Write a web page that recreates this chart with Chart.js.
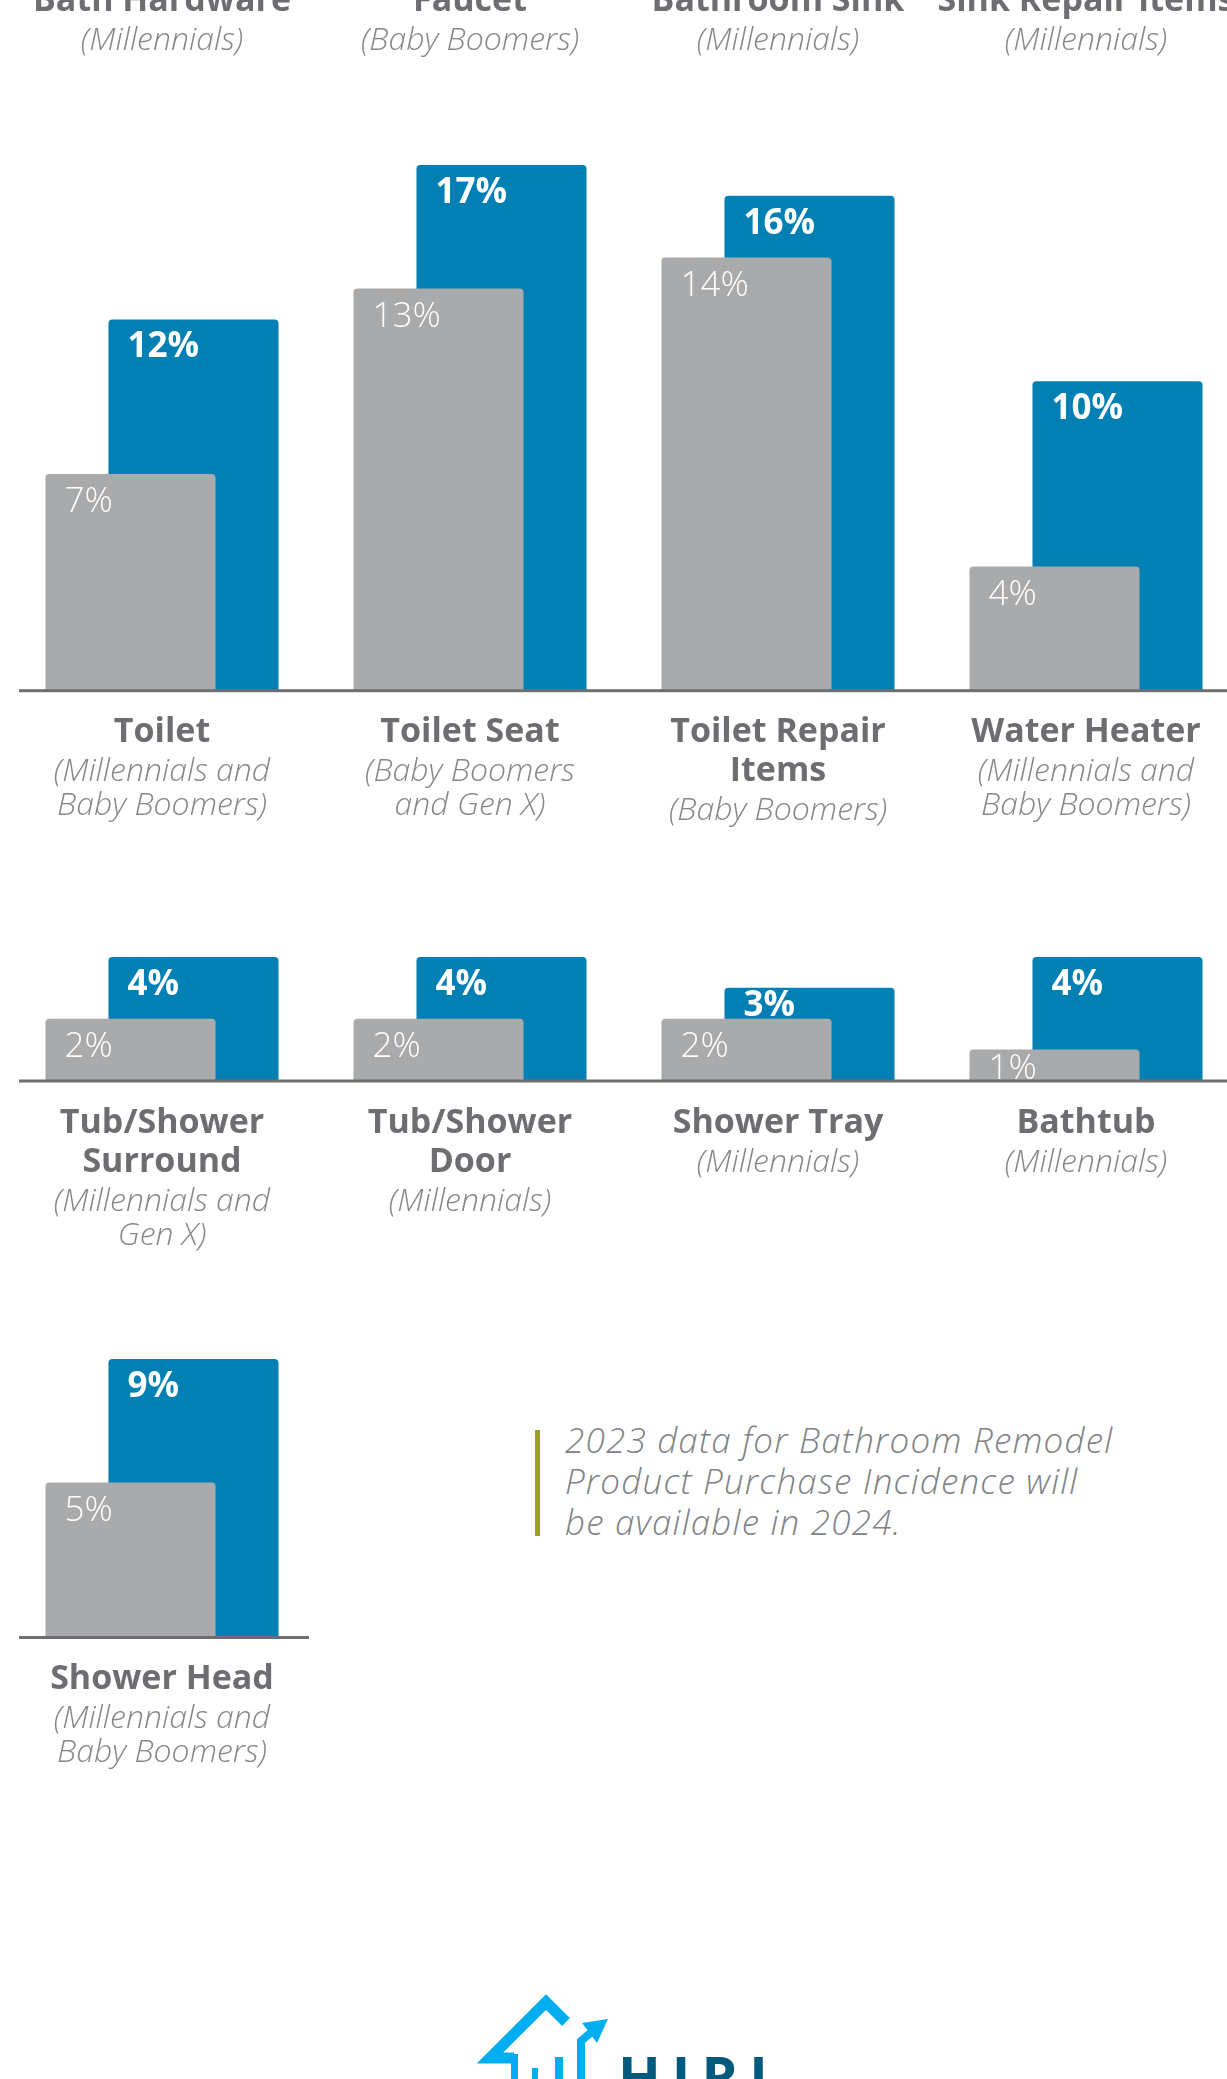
<!DOCTYPE html>
<html>
<head>
<meta charset="utf-8">
<title>Bathroom Remodel Product Purchase Incidence</title>
<script src="https://cdn.jsdelivr.net/npm/chart.js@4.4.0/dist/chart.umd.min.js"></script>
<style>
  html, body { margin: 0; padding: 0; background: #fff; }
  body { position: relative; width: 1227px; height: 2079px; overflow: hidden; font-family: "Open Sans", sans-serif; }
  canvas { position: absolute; left: 0; }
  .note-bar { position: absolute; left: 535px; top: 1430px; width: 5px; height: 106px; background: #9BA21E; }
  .note { position: absolute; left: 565px; top: 1419px; margin: 0; font-style: italic; font-weight: 300;
          font-size: 35px; line-height: 41px; color: #808285; white-space: nowrap; letter-spacing: 1.2px; }
  #logo { position: absolute; left: 0; top: 1960px; }
</style>
</head>
<body>

<div class="note-bar"></div>
<p class="note">2023 data for Bathroom Remodel<br>Product Purchase Incidence will<br>be available in 2024.</p>

<svg id="logo" width="1227" height="119" viewBox="0 1960 1227 119">
  <polyline points="566,2022 546,2002 490,2058 514,2058" fill="none" stroke="#00AEEF" stroke-width="11" stroke-linejoin="miter"/>
  <rect x="511" y="2054" width="7" height="40" fill="#00AEEF"/>
  <rect x="532" y="2068" width="6" height="20" fill="#00AEEF"/>
  <rect x="555" y="2057" width="8" height="30" fill="#00AEEF"/>
  <polyline points="581,2095 581,2041 594,2030" fill="none" stroke="#00AEEF" stroke-width="8"/>
  <polygon points="582,2023 608,2019 597,2043" fill="#00AEEF"/>
  <text x="618" y="2097" font-family="Open Sans" font-weight="700" font-size="56" letter-spacing="11" fill="#005A7D">HIRI</text>
</svg>

<script>
// ---- data ----
// top row: only the labels are on the page, its bars sit above the crop
const topCats = [['Bath Hardware'], ['Faucet'], ['Bathroom Sink'], ['Sink Repair Items']];
const topGroups = [['(Millennials)'], ['(Baby Boomers)'], ['(Millennials)'], ['(Millennials)']];

const toiletCats = [['Toilet'], ['Toilet Seat'], ['Toilet Repair', 'Items'], ['Water Heater']];
const toiletGroups = [['(Millennials and', 'Baby Boomers)'], ['(Baby Boomers', 'and Gen X)'], ['(Baby Boomers)'], ['(Millennials and', 'Baby Boomers)']];
const toiletGray = [7, 13, 14, 4];
const toiletBlue = [12, 17, 16, 10];

const tubCats = [['Tub/Shower', 'Surround'], ['Tub/Shower', 'Door'], ['Shower Tray'], ['Bathtub']];
const tubGroups = [['(Millennials and', 'Gen X)'], ['(Millennials)'], ['(Millennials)'], ['(Millennials)']];
const tubGray = [2, 2, 2, 1];
const tubBlue = [4, 4, 3, 4];

const headCats = [['Shower Head']];
const headGroups = [['(Millennials and', 'Baby Boomers)']];
const headGray = [5];
const headBlue = [9];

// ---- look ----
const GRAY = '#A9AAAC';
const BLUE = '#0280B3';
const AXIS = '#6D6E71';
const TITLE_COLOR = '#6D6E71';
const SUB_COLOR = '#85878A';
const FONT = '"Open Sans", "Lato", sans-serif';
const PPU = 30.9;   // pixels per percentage point, same in every panel
const BAND = 308;   // width of one category
const LABEL_SPACE = 170;

// grey line under the bars
const baseLine = {
  id: 'baseLine',
  afterDatasetsDraw(chart) {
    const a = chart.chartArea;
    const y0 = chart.scales.y.getPixelForValue(0);
    const ctx = chart.ctx;
    ctx.save();
    ctx.fillStyle = AXIS;
    ctx.fillRect(a.left + 11, y0 - 1, a.right - a.left - 18, 3);
    ctx.restore();
  }
};

// white % values in the top left corner of each bar
const barLabels = {
  id: 'barLabels',
  afterDatasetsDraw(chart) {
    const ctx = chart.ctx;
    const metas = chart.data.datasets.map((d, i) => chart.getDatasetMeta(i));
    ctx.save();
    ctx.fillStyle = '#fff';
    ctx.textAlign = 'left';
    ctx.textBaseline = 'alphabetic';
    metas.forEach((meta, di) => {
      ctx.font = (di === 0 ? '300 ' : '700 ') + '35px ' + FONT;
      meta.data.forEach((bar, i) => {
        let y = Math.min(bar.y + 38, bar.base - 2);
        // keep the blue value clear of the grey bar in front of it
        if (di === 1) y = Math.min(y, metas[0].data[i].y - 3);
        ctx.fillText(chart.data.datasets[di].data[i] + '%', bar.x - bar.width / 2 + 19, y);
      });
    });
    ctx.restore();
  }
};

// bold category name plus italic age group under the axis
const catLabels = {
  id: 'catLabels',
  afterDraw(chart, args, opts) {
    const ctx = chart.ctx;
    const x = chart.scales.x;
    const y0 = chart.scales.y.getPixelForValue(0);
    ctx.save();
    ctx.textAlign = 'center';
    ctx.textBaseline = 'alphabetic';
    opts.cats.forEach((lines, i) => {
      const cx = x.getPixelForValue(i);
      let y = y0 + 52;
      ctx.font = '700 34px ' + FONT;
      ctx.fillStyle = TITLE_COLOR;
      lines.forEach(t => { ctx.fillText(t, cx, y); y += 39; });
      ctx.font = 'italic 300 32px ' + FONT;
      ctx.fillStyle = SUB_COLOR;
      opts.groups[i].forEach(t => { ctx.fillText(t, cx, y); y += 34; });
    });
    ctx.restore();
  }
};

function makePanel(cats, groups, gray, blue, baseline, yMax) {
  const plotH = yMax * PPU;
  const w = 8 + cats.length * BAND;
  const h = Math.round(plotH + LABEL_SPACE);
  const canvas = document.createElement('canvas');
  canvas.width = w;
  canvas.height = h;
  canvas.style.top = (baseline - plotH) + 'px';
  canvas.style.width = w + 'px';
  canvas.style.height = h + 'px';
  document.body.appendChild(canvas);

  const bar = {
    borderRadius: 4,
    borderSkipped: 'start',
    categoryPercentage: 0.409,
    barPercentage: 2.7
  };

  new Chart(canvas.getContext('2d'), {
    type: 'bar',
    data: {
      labels: cats.map(c => c.join(' ')),
      datasets: [
        Object.assign({ label: 'grey', data: gray, backgroundColor: GRAY }, bar),
        Object.assign({ label: 'blue', data: blue, backgroundColor: BLUE }, bar)
      ]
    },
    options: {
      responsive: false,
      animation: false,
      events: [],
      layout: { padding: { left: 8, right: 0, top: 0, bottom: h - plotH } },
      plugins: {
        legend: { display: false },
        tooltip: { enabled: false },
        catLabels: { cats: cats, groups: groups }
      },
      scales: {
        x: { display: false },
        y: { display: false, min: 0, max: yMax }
      }
    },
    plugins: [baseLine, barLabels, catLabels]
  });
}

makePanel(topCats, topGroups, [], [], -41, 1);
makePanel(toiletCats, toiletGroups, toiletGray, toiletBlue, 690, 18);
makePanel(tubCats, tubGroups, tubGray, tubBlue, 1080, 5);
makePanel(headCats, headGroups, headGray, headBlue, 1637, 10);
</script>
</body>
</html>
